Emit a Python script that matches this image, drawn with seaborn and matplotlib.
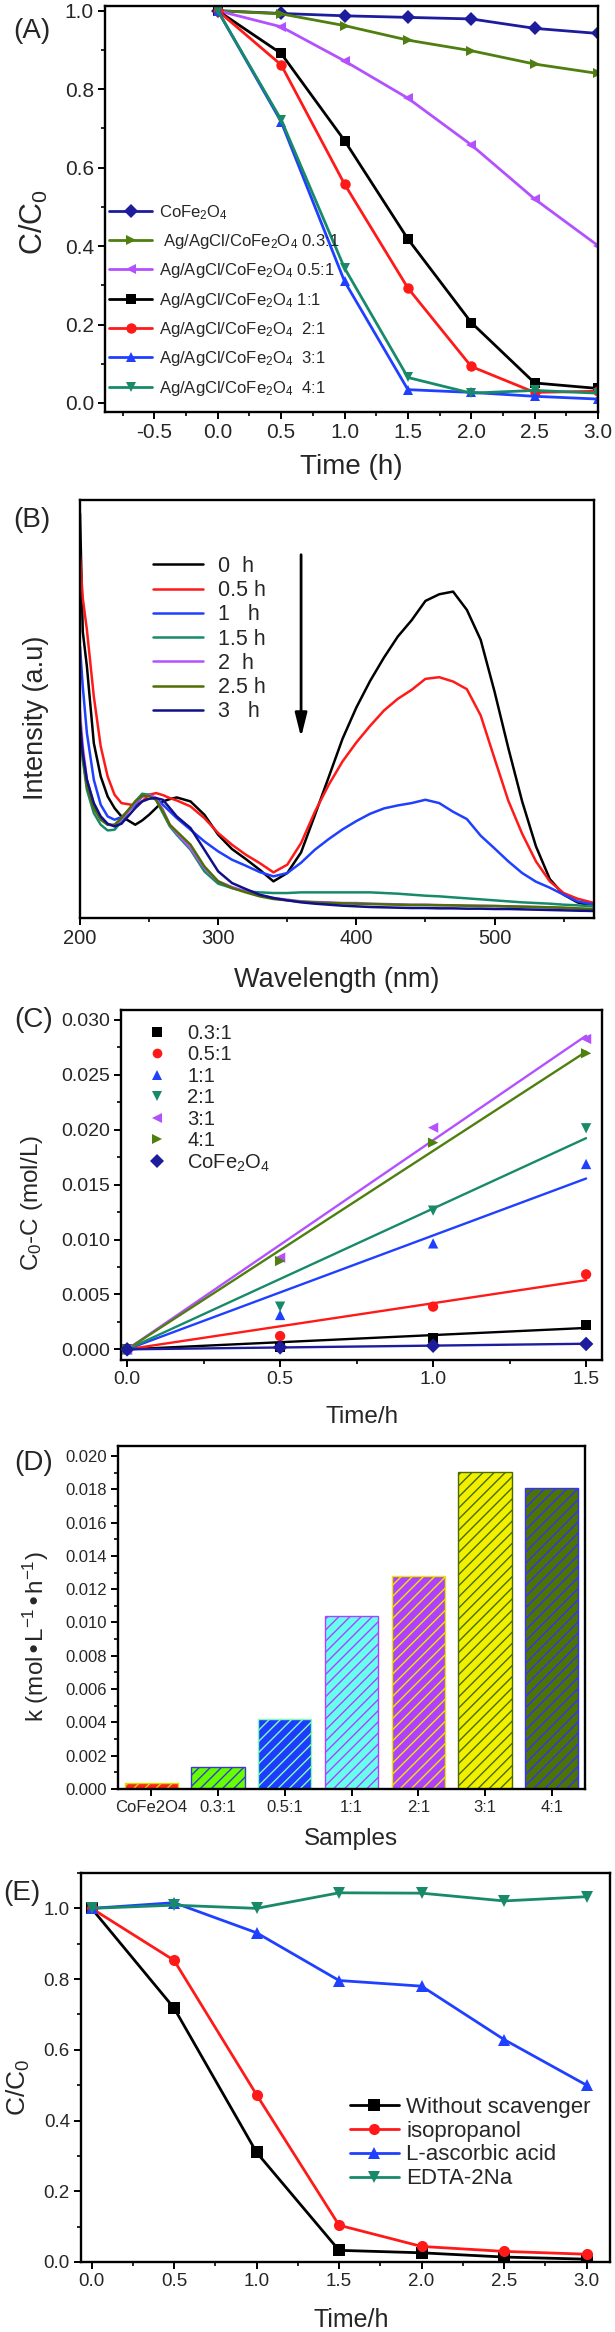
import numpy as np
import pandas as pd
import matplotlib
matplotlib.use('Agg')
import matplotlib.pyplot as plt
from matplotlib.lines import Line2D
from matplotlib.ticker import MultipleLocator, FormatStrFormatter
import seaborn as sns

# --- data ---
# (A) degradation curves
time_a = [0, 0.5, 1.0, 1.5, 2.0, 2.5, 3.0]
series_a = ['CoFe2O4', '0.3:1', '0.5:1', '1:1', '2:1', '3:1', '4:1']
a_cofe = [1.0, 0.993, 0.987, 0.983, 0.979, 0.955, 0.942]
a_03 = [1.0, 0.992, 0.962, 0.925, 0.898, 0.864, 0.840]
a_05 = [1.0, 0.959, 0.872, 0.777, 0.658, 0.520, 0.401]
a_1 = [1.0, 0.891, 0.669, 0.418, 0.205, 0.051, 0.037]
a_2 = [1.0, 0.862, 0.558, 0.293, 0.093, 0.027, 0.030]
a_3 = [1.0, 0.717, 0.310, 0.034, 0.027, 0.017, 0.010]
a_4 = [1.0, 0.722, 0.344, 0.065, 0.025, 0.032, 0.025]
labels_a = ['CoFe$_2$O$_4$', ' Ag/AgCl/CoFe$_2$O$_4$ 0.3:1', 'Ag/AgCl/CoFe$_2$O$_4$ 0.5:1',
            'Ag/AgCl/CoFe$_2$O$_4$ 1:1', 'Ag/AgCl/CoFe$_2$O$_4$  2:1',
            'Ag/AgCl/CoFe$_2$O$_4$  3:1', 'Ag/AgCl/CoFe$_2$O$_4$  4:1']

# (B) UV-vis spectra
wl = [200, 202, 205, 210, 215, 220, 225, 230, 240, 245, 250, 255, 260, 265, 270, 280, 290,
      300, 310, 320, 330, 340, 350, 360, 370, 380, 390, 400, 410, 420, 430, 440, 450, 460,
      470, 480, 490, 500, 510, 520, 530, 540, 550, 560, 572]
times_b = ['0 h', '0.5 h', '1 h', '1.5 h', '2 h', '2.5 h', '3 h']
b_0h = [1.215, 0.860, 0.755, 0.525, 0.425, 0.365, 0.330, 0.305, 0.280, 0.293, 0.310, 0.330,
        0.350, 0.357, 0.362, 0.350, 0.310, 0.250, 0.207, 0.177, 0.145, 0.110, 0.135,
        0.197, 0.309, 0.423, 0.538, 0.632, 0.712, 0.782, 0.845, 0.894, 0.952, 0.972, 0.980,
        0.925, 0.835, 0.680, 0.510, 0.350, 0.215, 0.117, 0.070, 0.047, 0.035]
b_05h = [1.090, 0.960, 0.865, 0.665, 0.515, 0.425, 0.370, 0.345, 0.338, 0.350, 0.370, 0.375,
         0.369, 0.360, 0.353, 0.335, 0.300, 0.255, 0.220, 0.190, 0.165, 0.137, 0.160,
         0.225, 0.319, 0.400, 0.470, 0.527, 0.577, 0.623, 0.658, 0.685, 0.718, 0.723, 0.710,
         0.687, 0.608, 0.479, 0.352, 0.253, 0.170, 0.110, 0.075, 0.058, 0.045]
b_1h = [0.815, 0.695, 0.555, 0.415, 0.340, 0.305, 0.295, 0.303, 0.340, 0.365, 0.370, 0.360,
        0.340, 0.320, 0.300, 0.265, 0.230, 0.200, 0.175, 0.157, 0.138, 0.125, 0.135,
        0.166, 0.205, 0.237, 0.266, 0.291, 0.313, 0.329, 0.338, 0.345, 0.355, 0.345, 0.319,
        0.297, 0.247, 0.209, 0.170, 0.135, 0.109, 0.091, 0.070, 0.050, 0.040]
b_15h = [0.585, 0.475, 0.385, 0.315, 0.280, 0.263, 0.265, 0.290, 0.350, 0.373, 0.370, 0.355,
         0.315, 0.275, 0.250, 0.205, 0.140, 0.103, 0.090, 0.080, 0.077, 0.075, 0.075,
         0.077, 0.077, 0.077, 0.077, 0.077, 0.077, 0.075, 0.073, 0.070, 0.067, 0.065, 0.062,
         0.059, 0.056, 0.053, 0.050, 0.047, 0.045, 0.043, 0.040, 0.038, 0.035]
b_2h = [0.620, 0.515, 0.415, 0.340, 0.300, 0.280, 0.278, 0.295, 0.345, 0.365, 0.370, 0.360,
        0.325, 0.280, 0.255, 0.210, 0.150, 0.110, 0.093, 0.080, 0.068, 0.060, 0.055,
        0.050, 0.048, 0.047, 0.045, 0.045, 0.043, 0.042, 0.041, 0.040, 0.040, 0.039, 0.038,
        0.037, 0.037, 0.036, 0.035, 0.034, 0.033, 0.032, 0.030, 0.028, 0.025]
b_25h = [0.590, 0.485, 0.395, 0.330, 0.295, 0.280, 0.280, 0.300, 0.350, 0.367, 0.367, 0.355,
         0.320, 0.280, 0.260, 0.220, 0.155, 0.110, 0.090, 0.077, 0.065, 0.057, 0.053,
         0.049, 0.047, 0.045, 0.044, 0.043, 0.042, 0.041, 0.040, 0.039, 0.039, 0.038, 0.038,
         0.037, 0.036, 0.036, 0.035, 0.034, 0.033, 0.032, 0.031, 0.029, 0.027]
b_3h = [0.580, 0.495, 0.415, 0.345, 0.305, 0.283, 0.275, 0.283, 0.330, 0.350, 0.358, 0.360,
        0.355, 0.330, 0.305, 0.270, 0.205, 0.140, 0.105, 0.087, 0.070, 0.060, 0.053,
        0.047, 0.043, 0.040, 0.037, 0.035, 0.033, 0.032, 0.031, 0.030, 0.030, 0.029, 0.029,
        0.028, 0.028, 0.027, 0.027, 0.026, 0.025, 0.024, 0.023, 0.022, 0.021]
labels_b = ['0  h', '0.5 h', '1   h', '1.5 h', '2  h', '2.5 h', '3   h']

# (C) C0-C vs time
t_c = [0, 0.5, 1.0, 1.5]
ratios_c = ['0.3:1', '0.5:1', '1:1', '2:1', '3:1', '4:1', 'CoFe2O4']
c_03 = [0, 0.0002, 0.00106, 0.00222]
c_05 = [0, 0.00121, 0.00389, 0.00683]
c_1 = [0, 0.00313, 0.00965, 0.01688]
c_2 = [0, 0.00389, 0.01263, 0.02013]
c_3 = [0, 0.00835, 0.02019, 0.02826]
c_4 = [0, 0.00804, 0.01882, 0.02696]
c_cofe = [0, 0.00018, 0.00033, 0.00049]
labels_c = ['0.3:1', '0.5:1', '1:1', '2:1', '3:1', '4:1', 'CoFe$_2$O$_4$']

# (D) rate constants
samples = ['CoFe2O4', '0.3:1', '0.5:1', '1:1', '2:1', '3:1', '4:1']
k_vals = [0.00034, 0.0013, 0.0042, 0.01037, 0.01282, 0.01904, 0.01807]

# (E) scavenger tests
time_e = [0, 0.5, 1.0, 1.5, 2.0, 2.5, 3.0]
series_e = ['Without scavenger', 'isopropanol', 'L-ascorbic acid', 'EDTA-2Na']
e_none = [1.0, 0.718, 0.310, 0.033, 0.026, 0.014, 0.008]
e_ipa = [1.0, 0.853, 0.473, 0.104, 0.044, 0.030, 0.022]
e_asc = [1.0, 1.016, 0.931, 0.796, 0.780, 0.629, 0.500]
e_edta = [1.0, 1.009, 1.0, 1.044, 1.043, 1.021, 1.033]

# --- styling ---
navy, olive, violet, red = '#1c1c9c', '#4f7f0f', '#b451ff', '#ff1a1a'
blue, teal = '#2040ff', '#188a6a'
colors_a = {'CoFe2O4': navy, '0.3:1': olive, '0.5:1': violet, '1:1': 'black',
            '2:1': red, '3:1': blue, '4:1': teal}
markers_a = {'CoFe2O4': 'D', '0.3:1': '>', '0.5:1': '<', '1:1': 's',
             '2:1': 'o', '3:1': '^', '4:1': 'v'}
colors_b = dict(zip(times_b, ['black', red, blue, teal, violet, '#4f6f00', '#10108a']))
face_d = ['#ff2020', '#66ff00', '#1e3cff', '#66ffee', '#b040ff', '#f0f000', '#4d7300']
edge_d = ['#d8d800', '#3a3acc', '#80ffb0', '#b040ff', '#e8e800', '#4a6b00', '#3333ff']
colors_e = dict(zip(series_e, ['black', red, blue, teal]))
markers_e = dict(zip(series_e, ['s', 'o', '^', 'v']))

sns.set_style('ticks')
plt.rcParams['font.family'] = ['Liberation Sans', 'DejaVu Sans']
plt.rcParams['mathtext.default'] = 'regular'
plt.rcParams['axes.unicode_minus'] = False
plt.rcParams['hatch.linewidth'] = 1.0

W, H = 615, 2332
fig = plt.figure(figsize=(W / 100, H / 100), dpi=100)


def box(l, t, r, b):
    return fig.add_axes([l / W, 1 - b / H, (r - l) / W, (b - t) / H])


def label(x, y, s, size, rot=0):
    fig.text(x / W, 1 - y / H, s, ha='center', va='center', rotation=rot, fontsize=size)


def style_axes(ax, size):
    for sp in ax.spines.values():
        sp.set_linewidth(1.7)
        sp.set_color('black')
    ax.tick_params(which='major', direction='out', length=5, width=1.4, labelsize=size,
                   color='black', pad=3)
    ax.tick_params(which='minor', direction='out', length=3, width=1.2, color='black')
    ax.set_xlabel('')
    ax.set_ylabel('')


# --- (A) ---
df_a = pd.DataFrame({'t': time_a * 7,
                     'v': a_cofe + a_03 + a_05 + a_1 + a_2 + a_3 + a_4,
                     's': np.repeat(series_a, len(time_a))})
ax = box(105, 6, 598, 412)
sns.lineplot(data=df_a, x='t', y='v', hue='s', style='s', hue_order=series_a,
             style_order=series_a, palette=colors_a, markers=markers_a, dashes=False,
             markersize=7.5, linewidth=2.0, markeredgewidth=0, legend=False, ax=ax)
ax.set_xlim(-0.89, 3.0)
ax.set_ylim(-0.023, 1.012)
ax.xaxis.set_major_locator(MultipleLocator(0.5))
ax.xaxis.set_minor_locator(MultipleLocator(0.25))
ax.yaxis.set_major_locator(MultipleLocator(0.2))
ax.yaxis.set_minor_locator(MultipleLocator(0.1))
ax.xaxis.set_major_formatter(FormatStrFormatter('%.1f'))
ax.yaxis.set_major_formatter(FormatStrFormatter('%.1f'))
style_axes(ax, 15)
ax.legend(ax.lines[:7], labels_a, loc='upper left', bbox_to_anchor=(0.008, 0.515),
          frameon=False, fontsize=12, handlelength=2.6, handletextpad=0.4,
          labelspacing=0.62, borderpad=0, borderaxespad=0)
label(32, 31, '(A)', 20)
label(34, 222, 'C/C$_0$', 22, 90)
label(351, 467, 'Time (h)', 20)

# --- (B) ---
df_b = pd.DataFrame({'wl': wl * 7,
                     'I': b_0h + b_05h + b_1h + b_15h + b_2h + b_25h + b_3h,
                     'time': np.repeat(times_b, len(wl))})
ax = box(80, 500, 594, 918)
sns.lineplot(data=df_b, x='wl', y='I', hue='time', hue_order=times_b, palette=colors_b,
             linewidth=1.8, estimator=None, legend=False, ax=ax)
ax.set_xlim(200, 572)
ax.set_ylim(0, 1.255)
ax.set_yticks([])
ax.xaxis.set_major_locator(MultipleLocator(100))
ax.xaxis.set_minor_locator(MultipleLocator(50))
style_axes(ax, 14.5)
ax.legend(ax.lines[:7], labels_b, loc='upper left', bbox_to_anchor=(0.142, 0.866),
          frameon=False, fontsize=15.5, handlelength=2.3, handletextpad=0.7,
          labelspacing=0.15, borderpad=0, borderaxespad=0)
ax.annotate('', xy=(360, 0.534), xytext=(360, 1.099),
            arrowprops=dict(arrowstyle='-|>,head_length=0.8,head_width=0.2',
                            lw=2, color='black', mutation_scale=18))
label(32, 520, '(B)', 20)
label(36, 718, 'Intensity (a.u)', 19.5, 90)
label(337, 980, 'Wavelength (nm)', 19.5)

# --- (C) ---
c_vals = c_03 + c_05 + c_1 + c_2 + c_3 + c_4 + c_cofe
df_c = pd.DataFrame({'t': t_c * 7, 'v': c_vals, 'r': np.repeat(ratios_c, len(t_c))})
k_map = dict(zip(samples, k_vals))
fit_t = [t_c[0], t_c[-1]]
df_fit = pd.DataFrame({'t': fit_t * 7,
                       'v': [k_map[r] * t for r in ratios_c for t in fit_t],
                       'r': np.repeat(ratios_c, 2)})
colors_c = dict(zip(ratios_c, ['black', red, blue, teal, violet, olive, navy]))
markers_c = dict(zip(ratios_c, ['s', 'o', '^', 'v', '<', '>', 'D']))
ax = box(121, 1010, 602, 1360)
sns.lineplot(data=df_fit, x='t', y='v', hue='r', hue_order=ratios_c, palette=colors_c,
             linewidth=1.7, legend=False, ax=ax)
sns.scatterplot(data=df_c, x='t', y='v', hue='r', style='r', hue_order=ratios_c,
                style_order=ratios_c, palette=colors_c, markers=markers_c, s=55,
                linewidth=0, legend=False, ax=ax, zorder=3)
ax.set_xlim(-0.02, 1.552)
ax.set_ylim(-0.00097, 0.0309)
ax.xaxis.set_major_locator(MultipleLocator(0.5))
ax.xaxis.set_minor_locator(MultipleLocator(0.25))
ax.yaxis.set_major_locator(MultipleLocator(0.005))
ax.yaxis.set_minor_locator(MultipleLocator(0.0025))
ax.xaxis.set_major_formatter(FormatStrFormatter('%.1f'))
ax.yaxis.set_major_formatter(FormatStrFormatter('%.3f'))
style_axes(ax, 14)
handles_c = [Line2D([], [], ls='none', marker=markers_c[r], color=colors_c[r],
                    markersize=7, markeredgewidth=0) for r in ratios_c]
ax.legend(handles_c, labels_c, loc='upper left', bbox_to_anchor=(0.054, 0.96),
          frameon=False, fontsize=14.5, handlelength=1.0, handletextpad=1.0,
          labelspacing=0.12, borderpad=0, borderaxespad=0)
label(34, 1020, '(C)', 20)
label(32, 1203, 'C$_0$-C (mol/L)', 17.5, 90)
label(362, 1417, 'Time/h', 17.5)

# --- (D) ---
ax = box(118, 1446, 585, 1789)
sns.barplot(x=samples, y=k_vals, hue=samples, palette=face_d, saturation=1, width=0.8,
            legend=False, ax=ax)
for p, ec in zip(ax.patches, edge_d):
    p.set_edgecolor(ec)
    p.set_hatch('///')
    p.set_linewidth(1.0)
ax.set_xlim(-0.5, 6.5)
ax.set_ylim(0, 0.0206)
ax.yaxis.set_major_locator(MultipleLocator(0.002))
ax.yaxis.set_minor_locator(MultipleLocator(0.001))
ax.yaxis.set_major_formatter(FormatStrFormatter('%.3f'))
style_axes(ax, 12)
label(34, 1463, '(D)', 20)
label(36, 1637, 'k (mol\u2022L$^{-1}$\u2022h$^{-1}$)', 17.5, 90)
label(351, 1839, 'Samples', 17.5)

# --- (E) ---
df_e = pd.DataFrame({'t': time_e * 4,
                     'v': e_none + e_ipa + e_asc + e_edta,
                     's': np.repeat(series_e, len(time_e))})
ax = box(81, 1873, 610, 2262)
sns.lineplot(data=df_e, x='t', y='v', hue='s', style='s', hue_order=series_e,
             style_order=series_e, palette=colors_e, markers=markers_e, dashes=False,
             markersize=8, linewidth=2.0, markeredgewidth=0, legend=False, ax=ax)
ax.set_xlim(-0.064, 3.142)
ax.set_ylim(0, 1.1)
ax.xaxis.set_major_locator(MultipleLocator(0.5))
ax.xaxis.set_minor_locator(MultipleLocator(0.25))
ax.yaxis.set_major_locator(MultipleLocator(0.2))
ax.yaxis.set_minor_locator(MultipleLocator(0.1))
ax.xaxis.set_major_formatter(FormatStrFormatter('%.1f'))
ax.yaxis.set_major_formatter(FormatStrFormatter('%.1f'))
style_axes(ax, 13.5)
ax.legend(ax.lines[:4], series_e, loc='upper left', bbox_to_anchor=(0.508, 0.425),
          frameon=False, fontsize=16, handlelength=2.2, handletextpad=0.35,
          labelspacing=0.13, borderpad=0, borderaxespad=0)
label(22, 1893, '(E)', 20)
label(18, 2087, 'C/C$_0$', 19, 90)
label(351, 2320, 'Time/h', 18)

fig.savefig('out.png', dpi=100)
